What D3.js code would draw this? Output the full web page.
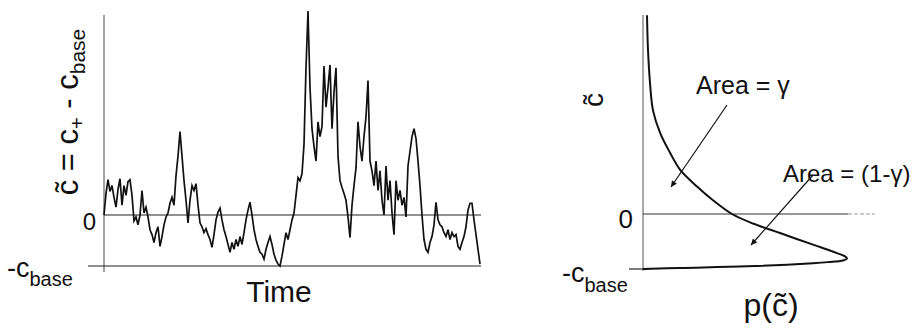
<!DOCTYPE html>
<html>
<head>
<meta charset="utf-8">
<script src="https://cdn.jsdelivr.net/npm/d3@7"></script>
<style>
  body { margin: 0; background: #fff; }
  svg text { font-family: "Liberation Sans", Arial, Helvetica, sans-serif; fill: #111; }
</style>
</head>
<body>
<div id="chart"></div>
<script>
// c-tilde values, arbitrary units where c_base = 52 (every 2nd pixel)
const cBase = 52;
const excursion = [
    0, 22, 36, 24, 30, 18, 8, 26, 37, 10,
    30, 20, 34, 36, 20, -6, -2, -10, 0, 25,
    2, 8, -2, -15, -20, -28, -18, -12, -32, -22,
    -10, -2, 2, 12, 18, 10, 40, 60, 85, 60,
    35, 15, -8, 15, 30, 25, 32, 10, -8, -12,
    -18, -14, -20, -25, -33, -20, -5, 3, 7, -5,
    -15, -22, -30, -38, -28, -35, -25, -32, -22, -30,
    -18, -5, 5, 13, 0, -15, -25, -32, -38, -40,
    -45, -35, -28, -22, -30, -40, -46, -50, -52, -42,
    -30, -18, -25, -15, -5, 2, 20, 38, 35, 42,
    72, 150, 208, 130, 88, 70, 55, 95, 80, 90,
    152, 110, 130, 153, 88, 125, 150, 60, 35, 28,
    22, 15, -2, -23, 10, 30, 48, 95, 70, 55,
    80, 100, 137, 55, 45, 30, 55, 25, 45, 15,
    0, 50, 15, 35, 2, -20, 35, 15, 25, 10,
    18, -2, 50, 65, 80, 88, 78, 55, 30, 0,
    -25, -35, -38, -28, -22, -10, 13, -5, -10, -12,
    -18, -22, -15, -25, -18, -22, -20, -32, -35, -28,
    -22, -12, 5, 12, 12, -5, -20, -35, -50
];

// stationary density p(c~) from top to bottom
const densityC = [188, 155, 124, 98, 77, 58, 42, 26, 13, 0, -9, -18, -29, -37, -40, -42, -44, -45.5, -46.5, -49.5, -51, -52];
const densityP = [4, 5, 7, 10, 17, 27, 37, 54, 70, 89, 110, 137, 170, 194, 202, 204, 200, 185, 170, 104, 37, 0];

const width = 917, height = 331;

const svg = d3.select('#chart')
    .append('svg')
    .attr('width', width)
    .attr('height', height);

svg.append('defs').append('marker')
    .attr('id', 'arrow')
    .attr('viewBox', '0 0 10 10')
    .attr('refX', 10)
    .attr('refY', 5)
    .attr('markerWidth', 11)
    .attr('markerHeight', 6)
    .attr('markerUnits', 'userSpaceOnUse')
    .attr('orient', 'auto')
    .append('path')
    .attr('d', 'M0,0 L10,5 L0,10 Z')
    .attr('fill', '#111');

// ---------- left panel: time series ----------
const xTime = d3.scaleLinear()
    .domain([0, excursion.length - 1])
    .range([104, 480]);

const yLeft = d3.scaleLinear()
    .domain([-cBase, 0])
    .range([266, 215]);

const left = svg.append('g');

// y axis line
left.append('line')
    .attr('x1', xTime(0)).attr('x2', xTime(0))
    .attr('y1', 15).attr('y2', yLeft(-cBase) + 6)
    .attr('stroke', '#444').attr('stroke-width', 1);

// -c_base line (with tick sticking out left)
left.append('line')
    .attr('x1', xTime(0) - 16).attr('x2', xTime(excursion.length - 1) + 1)
    .attr('y1', yLeft(-cBase)).attr('y2', yLeft(-cBase))
    .attr('stroke', '#222').attr('stroke-width', 1.2);

// zero line
left.append('line')
    .attr('x1', xTime(0)).attr('x2', xTime(excursion.length - 1) + 1)
    .attr('y1', yLeft(0)).attr('y2', yLeft(0))
    .attr('stroke', '#222').attr('stroke-width', 1.2);

const seriesLine = d3.line()
    .x((d, i) => xTime(i))
    .y(d => yLeft(d));

left.append('path')
    .datum(excursion)
    .attr('d', seriesLine)
    .attr('fill', 'none')
    .attr('stroke', '#111')
    .attr('stroke-width', 1.7)
    .attr('stroke-linejoin', 'miter');

// labels
left.append('text')
    .attr('x', 96).attr('y', yLeft(0) + 15)
    .attr('text-anchor', 'end')
    .attr('font-size', 24)
    .text('0');

const baseLeft = left.append('text')
    .attr('x', 7).attr('y', yLeft(-cBase) + 11)
    .attr('font-size', 27);
baseLeft.append('tspan').text('-c');
baseLeft.append('tspan').attr('font-size', 20).attr('dy', 9).text('base');

left.append('text')
    .attr('x', 279).attr('y', 302)
    .attr('text-anchor', 'middle')
    .attr('font-size', 30)
    .text('Time');

const yTitle = left.append('text')
    .attr('transform', 'translate(78,112) rotate(-90)')
    .attr('text-anchor', 'middle')
    .attr('font-size', 31);
yTitle.append('tspan').text('c\u0303 = c');
yTitle.append('tspan').attr('font-size', 20).attr('dy', 6).text('+');
yTitle.append('tspan').attr('dy', -6).text(' - c');
yTitle.append('tspan').attr('font-size', 21).attr('dy', 7).text('base');

// ---------- right panel: density ----------
const xP = d3.scaleLinear()
    .domain([0, 204])
    .range([643, 847]);

const yRight = d3.scaleLinear()
    .domain([-cBase, 0])
    .range([269, 214]);

const right = svg.append('g');

right.append('line')
    .attr('x1', xP(0)).attr('x2', xP(0))
    .attr('y1', 15).attr('y2', yRight(-cBase) + 2)
    .attr('stroke', '#555').attr('stroke-width', 1);

right.append('line')
    .attr('x1', xP(0) - 14).attr('x2', xP(0) + 6)
    .attr('y1', yRight(-cBase)).attr('y2', yRight(-cBase))
    .attr('stroke', '#222').attr('stroke-width', 1.2);

right.append('line')
    .attr('x1', xP(0)).attr('x2', xP(205))
    .attr('y1', yRight(0)).attr('y2', yRight(0))
    .attr('stroke', '#333').attr('stroke-width', 1);
right.append('line')
    .attr('x1', xP(205)).attr('x2', xP(232))
    .attr('y1', yRight(0)).attr('y2', yRight(0))
    .attr('stroke', '#999').attr('stroke-width', 1)
    .attr('stroke-dasharray', '4,2');

const densityLine = d3.line()
    .x((d, i) => xP(densityP[i]))
    .y(d => yRight(d))
    .curve(d3.curveCatmullRom);

right.append('path')
    .datum(densityC)
    .attr('d', densityLine)
    .attr('fill', 'none')
    .attr('stroke', '#111')
    .attr('stroke-width', 2);

right.append('text')
    .attr('x', 633).attr('y', yRight(0) + 14)
    .attr('text-anchor', 'end')
    .attr('font-size', 26)
    .text('0');

const baseRight = right.append('text')
    .attr('x', 562).attr('y', yRight(-cBase) + 13)
    .attr('font-size', 27);
baseRight.append('tspan').text('-c');
baseRight.append('tspan').attr('font-size', 20).attr('dy', 10).text('base');

right.append('text')
    .attr('transform', 'translate(603,100) rotate(-90)')
    .attr('text-anchor', 'middle')
    .attr('font-size', 28)
    .text('c\u0303');

right.append('text')
    .attr('x', 771).attr('y', 316)
    .attr('text-anchor', 'middle')
    .attr('font-size', 32)
    .text('p(c\u0303)');

// area annotations
right.append('text')
    .attr('x', 696).attr('y', 94)
    .attr('font-size', 25)
    .text('Area = \u03b3');

right.append('text')
    .attr('x', 783).attr('y', 182)
    .attr('font-size', 24)
    .text('Area = (1-\u03b3)');

right.append('line')
    .attr('x1', 727).attr('y1', 105)
    .attr('x2', 671).attr('y2', 187)
    .attr('stroke', '#111').attr('stroke-width', 1.2)
    .attr('marker-end', 'url(#arrow)');

right.append('line')
    .attr('x1', 813).attr('y1', 175)
    .attr('x2', 751).attr('y2', 245)
    .attr('stroke', '#111').attr('stroke-width', 1.2)
    .attr('marker-end', 'url(#arrow)');
</script>
</body>
</html>
